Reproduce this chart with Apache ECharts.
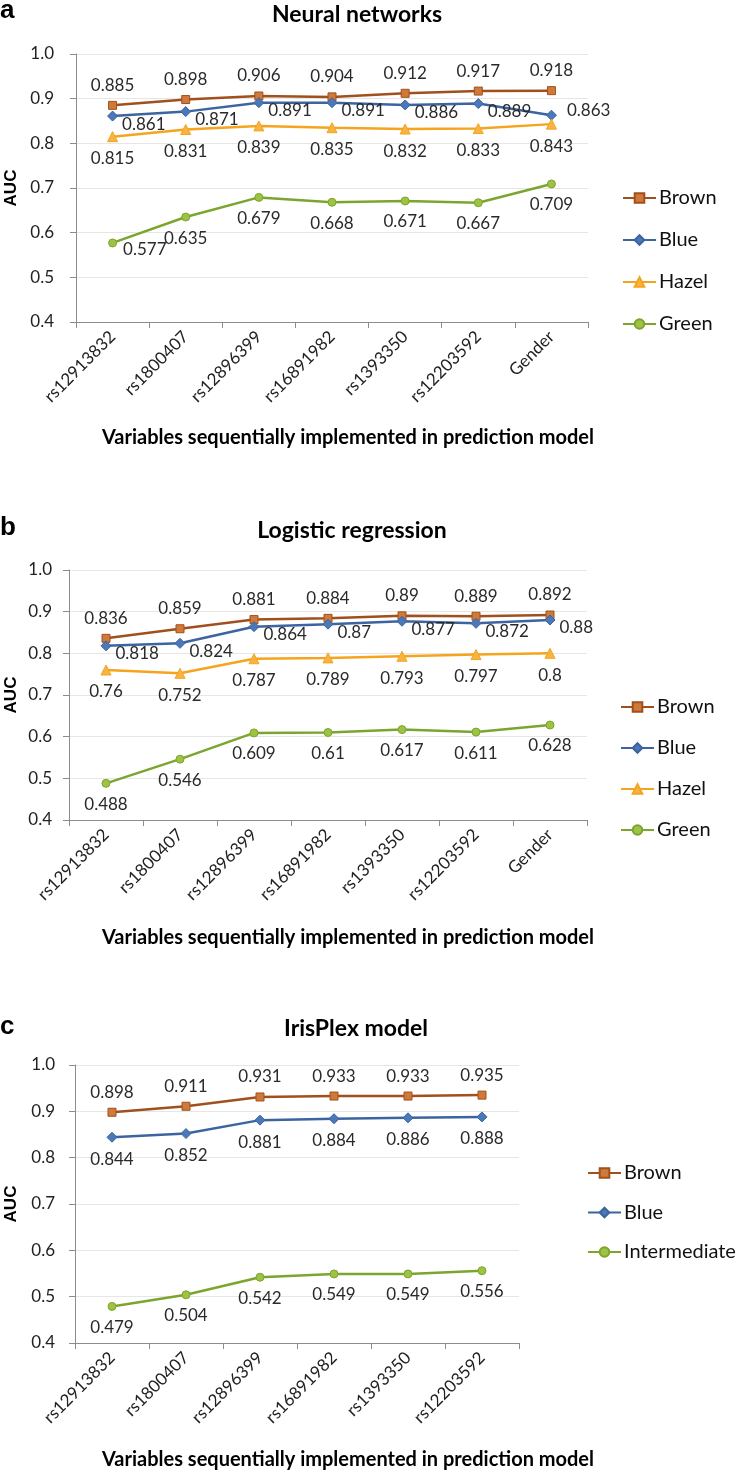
<!DOCTYPE html>
<html>
<head>
<meta charset="utf-8">
<script src="https://cdn.jsdelivr.net/npm/echarts@6/dist/echarts.min.js"></script>
<style>
html,body{margin:0;padding:0;background:#fff;}
#chart{width:742px;height:1473px;}
</style>
</head>
<body>
<div id="chart"></div>
<script>
// ---------- data ----------
const categoriesAB = ['rs12913832','rs1800407','rs12896399','rs16891982','rs1393350','rs12203592','Gender'];
const categoriesC = ['rs12913832','rs1800407','rs12896399','rs16891982','rs1393350','rs12203592'];

const nnBrown = [0.885,0.898,0.906,0.904,0.912,0.917,0.918];
const nnBlue  = [0.861,0.871,0.891,0.891,0.886,0.889,0.863];
const nnHazel = [0.815,0.831,0.839,0.835,0.832,0.833,0.843];
const nnGreen = [0.577,0.635,0.679,0.668,0.671,0.667,0.709];

const lrBrown = [0.836,0.859,0.881,0.884,0.89,0.889,0.892];
const lrBlue  = [0.818,0.824,0.864,0.87,0.877,0.872,0.88];
const lrHazel = [0.76,0.752,0.787,0.789,0.793,0.797,0.8];
const lrGreen = [0.488,0.546,0.609,0.61,0.617,0.611,0.628];

const ipBrown = [0.898,0.911,0.931,0.933,0.933,0.935];
const ipBlue  = [0.844,0.852,0.881,0.884,0.886,0.888];
const ipInter = [0.479,0.504,0.542,0.549,0.549,0.556];

const panelTitles = ['Neural networks','Logistic regression','IrisPlex model'];
const panelLetters = ['a','b','c'];
const xAxisName = 'Variables sequentially implemented in prediction model';
const yAxisName = 'AUC';

// ---------- styles ----------
const FONT = 'Lato, "Open Sans", sans-serif';
const styles = {
  Brown: {line:'#A0501C', fill:'#CF7A3A', symbol:'rect', size:8},
  Blue: {line:'#3C64A0', fill:'#4A78B8', symbol:'diamond', size:10},
  Hazel: {line:'#F5A41E', fill:'#F7B443', symbol:'triangle', size:10},
  Green: {line:'#7DA52E', fill:'#9DC244', symbol:'circle', size:8},
  Intermediate: {line:'#7DA52E', fill:'#9DC244', symbol:'circle', size:8}
};
const labelPos = {
  Brown: {position:'top', distance:7, offset:[0,0]},
  Blue: {position:'right', distance:4, offset:[0,8]},
  Hazel: {position:'bottom', distance:8, offset:[0,0]},
  Green: {position:'bottom', distance:8, offset:[0,0]},
  Intermediate: {position:'bottom', distance:8, offset:[0,0]}
};
const cBlueLabel = {position:'bottom', distance:8, offset:[0,0]};
const overrides = {
  '0-Blue-6': {position:'right', distance:6, offset:[4,-5]},
  '0-Green-0': {position:'right', distance:4, offset:[2,7]}
};

const grids = [
  {left:76, top:54, width:512, height:268},
  {left:69, top:570, width:518, height:250},
  {left:75, top:1065, width:444, height:278}
];
const legendPos = [
  {left:617, top:183, itemGap:22},
  {left:615, top:692, itemGap:21},
  {left:582, top:1158, itemGap:19.5}
];
const yLabelMargin = [22, 17, 20];
const textY = [
  {letter:12, title:15, xname:438, auc:188},
  {letter:529, title:531, xname:938, auc:695},
  {letter:1028, title:1029, xname:1460, auc:1204}
];
const titleX = [357, 352, 356];

const panels = [
  {cats: categoriesAB, series: [['Brown',nnBrown],['Blue',nnBlue],['Hazel',nnHazel],['Green',nnGreen]]},
  {cats: categoriesAB, series: [['Brown',lrBrown],['Blue',lrBlue],['Hazel',lrHazel],['Green',lrGreen]]},
  {cats: categoriesC, series: [['Brown',ipBrown],['Blue',ipBlue],['Intermediate',ipInter]]}
];

const option = {
  backgroundColor:'#fff',
  animation:false,
  grid: grids,
  xAxis: [], yAxis: [], series: [], legend: [], graphic: []
};

panels.forEach((p, pi) => {
  option.xAxis.push({
    type:'category', gridIndex:pi, data:p.cats, boundaryGap:true,
    axisLine:{show:true, lineStyle:{color:'#8C8C8C', width:1}},
    axisTick:{show:true, length:6, interval:0, lineStyle:{color:'#8C8C8C'}},
    axisLabel:{interval:0, rotate:45, margin:12, fontSize:17, fontFamily:FONT, color:'#222'},
    splitLine:{show:false}
  });
  option.yAxis.push({
    type:'value', gridIndex:pi, min:0.4, max:1.0, interval:0.1,
    axisLine:{show:true, lineStyle:{color:'#8C8C8C', width:1}},
    axisTick:{show:true, length:6, lineStyle:{color:'#8C8C8C'}},
    axisLabel:{margin:yLabelMargin[pi], fontSize:17, fontFamily:FONT, color:'#222', formatter:v=>v.toFixed(1)},
    splitLine:{show:true, lineStyle:{color:'#E6E6E6', width:1}}
  });
  p.series.forEach(([name, vals]) => {
    const st = styles[name];
    const lp = (pi===2 && name==='Blue') ? cBlueLabel : labelPos[name];
    option.series.push({
      type:'line', name:name, xAxisIndex:pi, yAxisIndex:pi,
      data: vals.map((v, i) => {
        const ov = overrides[pi+'-'+name+'-'+i];
        return ov ? {value:v, label:ov} : v;
      }),
      symbol:st.symbol, symbolSize:st.size,
      lineStyle:{color:st.line, width:2.5},
      itemStyle:{color:st.fill, borderColor:st.line, borderWidth:1},
      label:{show:true, position:lp.position, distance:lp.distance, offset:lp.offset,
        fontSize:17, fontFamily:FONT, color:'#2a2a2a', formatter:pr=>String(pr.value)},
      emphasis:{disabled:true}
    });
  });
  option.legend.push({
    data: p.series.map(s=>s[0]),
    orient:'vertical', left:legendPos[pi].left, top:legendPos[pi].top, itemGap:legendPos[pi].itemGap,
    itemWidth:33, itemHeight:12, selectedMode:false,
    textStyle:{fontSize:20, fontFamily:FONT, color:'#111', padding:[0,0,0,-2]}
  });
  const ty = textY[pi];
  option.graphic.push(
    {type:'text', left:0, top:ty.letter-14, style:{text:panelLetters[pi], font:'bold 26px "Liberation Sans", Arial, sans-serif', fill:'#000'}},
    {type:'text', x:titleX[pi], y:ty.title, style:{text:panelTitles[pi], font:'bold 23px '+FONT, fill:'#000', align:'center', verticalAlign:'middle'}},
    {type:'text', x:348, y:ty.xname, style:{text:xAxisName, font:'bold 20px '+FONT, fill:'#000', align:'center', verticalAlign:'middle'}},
    {type:'text', x:11, y:ty.auc, rotation:Math.PI/2, style:{text:yAxisName, font:'bold 17px "Liberation Sans", Arial, sans-serif', fill:'#000', align:'center', verticalAlign:'middle'}}
  );
});

const chart = echarts.init(document.getElementById('chart'), null, {renderer:'canvas', width:742, height:1473});
chart.setOption(option);
</script>
</body>
</html>
